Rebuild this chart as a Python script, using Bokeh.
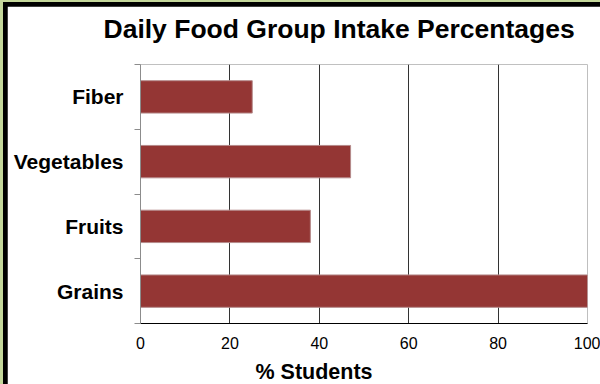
from bokeh.plotting import figure
from bokeh.models import FixedTicker, Range1d, ColumnDataSource, Title
from bokeh.layouts import column
from bokeh.embed import file_html
from bokeh.resources import INLINE

categories = ["Grains", "Fruits", "Vegetables", "Fiber"]
values = [100, 38, 47, 25]
x_ticks = [0, 20, 40, 60, 80, 100]
title_text = "Daily Food Group Intake Percentages"
x_title = "% Students"

positions = [i + 0.5 for i in range(len(categories))]
src = ColumnDataSource(dict(y=positions, v=values, cat=categories))

FONT = "Liberation Sans"

p = figure(width=593, height=378, output_backend="svg", toolbar_location=None,
           x_range=Range1d(0, 100), y_range=Range1d(0, len(categories)),
           min_border_left=133, min_border_right=13, min_border_top=58, min_border_bottom=61,
           border_fill_color="white", background_fill_color="white")
p.outline_line_color = None

p.title.text = title_text
p.title.align = "left"
p.title.offset = -37
p.title.vertical_align = "top"
p.title.standoff = 0
p.title.text_font = FONT
p.title.text_font_style = "bold"
p.title.text_font_size = "26.5px"
p.title.text_color = "black"

# spacer between title and plot area
p.add_layout(Title(text=" ", standoff=16, text_font_size="1px"), "above")

p.hbar(y="y", right="v", left=0, height=0.5, source=src,
       fill_color="#943634", line_color="#b58a8a", line_width=1)

# x axis
p.xaxis.ticker = FixedTicker(ticks=x_ticks)
p.xaxis.axis_line_color = "black"
p.xaxis.major_tick_line_color = None
p.xaxis.minor_tick_line_color = None
p.xaxis.major_label_text_font = FONT
p.xaxis.major_label_text_font_size = "16px"
p.xaxis.major_label_text_color = "black"
p.xaxis.major_label_standoff = 7

# spacer between tick labels and the axis title
p.add_layout(Title(text=" ", standoff=3, text_font_size="1px"), "below")
xt = Title(text=x_title, align="left", offset=115, vertical_align="bottom", standoff=0,
           text_font=FONT, text_font_style="bold", text_font_size="21.5px", text_color="black")
p.add_layout(xt, "below")

# y axis
p.yaxis.ticker = FixedTicker(ticks=positions, minor_ticks=list(range(len(categories) + 1)))
p.yaxis.major_label_overrides = {pos: c for pos, c in zip(positions, categories)}
p.yaxis.axis_line_color = "#8c8c8c"
p.yaxis.major_tick_line_color = None
p.yaxis.minor_tick_line_color = "#8c8c8c"
p.yaxis.minor_tick_out = 6
p.yaxis.minor_tick_in = 0
p.yaxis.major_label_text_font = FONT
p.yaxis.major_label_text_font_style = "bold"
p.yaxis.major_label_text_font_size = "21px"
p.yaxis.major_label_text_color = "black"
p.yaxis.major_label_standoff = 11

p.ygrid.grid_line_color = None
p.xgrid.ticker = FixedTicker(ticks=x_ticks[1:])
p.xgrid.grid_line_color = "#333333"
p.xgrid.grid_line_width = 1

inner = column(p, styles={"background-color": "black", "padding-left": "4px", "padding-top": "4px"})
outer = column(inner, styles={"background-color": "#c4d79b", "padding-left": "3px", "padding-top": "2px"})

open("out.html", "w").write(file_html(outer, INLINE))
